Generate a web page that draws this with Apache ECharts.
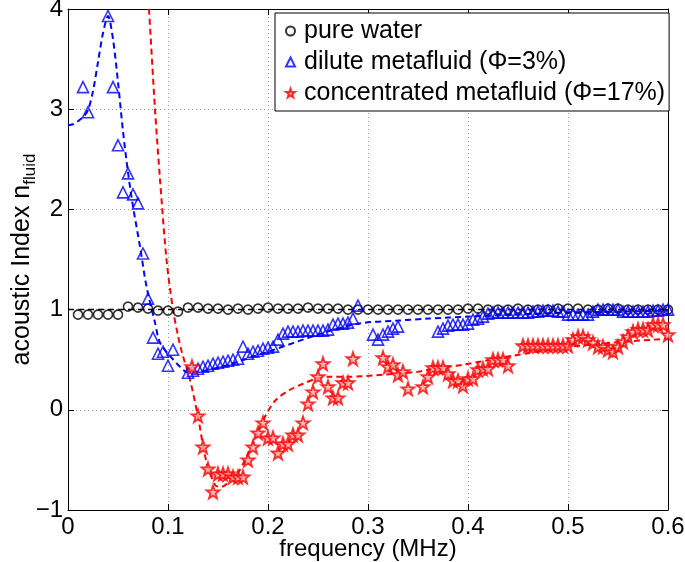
<!DOCTYPE html>
<html><head><meta charset="utf-8">
<script src="https://cdn.jsdelivr.net/npm/echarts@6/dist/echarts.min.js"></script>
<style>html,body{margin:0;padding:0;background:#fff}#c{width:685px;height:562px}</style>
</head><body><div id="c"></div>
<script>
// ---- data ----
const waterFreq = [0.01,0.02,0.03,0.04,0.05,0.06,0.07,0.08,0.09,0.10,0.11,0.12,0.13,0.14,0.15,0.16,0.17,0.18,0.19,0.20,0.21,0.22,0.23,0.24,0.25,0.26,0.27,0.28,0.29,0.30,0.31,0.32,0.33,0.34,0.35,0.36,0.37,0.38,0.39,0.40,0.41,0.42,0.43,0.44,0.45,0.46,0.47,0.48,0.49,0.50,0.51,0.52,0.53,0.54,0.55,0.56,0.57,0.58,0.59,0.60];
const waterN = [0.95,0.95,0.95,0.95,0.95,1.03,1.02,1.01,0.99,0.99,0.98,1.02,1.02,1.01,1.01,1.00,1.01,1.00,1.01,1.02,1.01,1.01,1.01,1.02,1.01,1.01,1.01,1.00,1.00,1.00,1.00,1.00,1.00,1.00,1.00,1.00,1.00,1.00,1.00,1.01,1.01,1.00,1.00,1.00,1.01,1.00,1.00,1.00,1.01,1.01,1.01,1.00,1.00,1.01,1.01,1.00,1.00,1.00,1.00,1.00];

const diluteFreq = [0.015,0.020,0.040,0.045,0.050,0.055,0.060,0.065,0.070,0.075,0.080,0.085,0.090,0.095,0.100,0.105,
  0.120,0.125,0.130,0.135,0.140,0.145,0.150,0.155,0.160,0.165,0.170,0.175,0.180,0.185,0.190,0.195,0.200,0.205,0.210,0.215,
  0.220,0.225,0.230,0.235,0.240,0.245,0.250,0.255,0.260,0.265,0.270,0.275,0.280,0.285,0.290,
  0.305,0.310,0.315,0.320,0.325,0.330,
  0.370,0.375,0.380,0.385,0.390,0.395,0.400,0.405,0.410,0.415,0.420,0.425,0.430,0.435,0.440,0.445,0.450,0.455,0.460,0.465,0.470,0.475,0.480,0.485,0.490,0.495,
  0.500,0.505,0.510,0.515,0.520,0.525,0.530,0.535,0.540,0.545,0.550,0.555,0.560,0.565,0.570,0.575,0.580,0.585,0.590,0.595,0.600];
const diluteN = [3.22,2.97,3.93,3.22,2.64,2.17,2.36,2.15,2.06,1.56,1.11,0.72,0.56,0.58,0.44,0.60,
  0.37,0.39,0.41,0.43,0.44,0.46,0.47,0.48,0.49,0.50,0.51,0.63,0.56,0.58,0.59,0.61,0.62,0.63,0.70,0.76,
  0.78,0.78,0.78,0.79,0.79,0.79,0.79,0.79,0.80,0.85,0.86,0.86,0.87,0.91,1.04,
  0.75,0.70,0.75,0.78,0.81,0.83,
  0.78,0.81,0.84,0.85,0.85,0.85,0.86,0.90,0.91,0.93,0.96,0.97,0.97,0.97,0.97,0.97,0.97,0.97,0.97,0.98,0.98,0.99,0.99,0.99,0.98,0.98,
  0.95,0.95,0.95,0.95,0.95,0.98,1.00,1.00,1.00,1.00,1.00,0.98,0.98,0.98,0.98,0.98,0.98,0.99,0.99,1.00,1.00];

const concFreq = [0.124,0.130,0.135,0.140,0.145,0.150,0.155,0.160,0.165,0.170,0.175,0.180,0.185,0.190,0.195,0.200,0.205,0.210,0.215,0.220,0.225,0.230,0.235,0.240,0.245,0.250,0.255,0.260,0.265,0.270,0.275,0.280,0.285,
  0.315,0.320,0.325,0.330,0.335,0.340,0.355,0.360,0.365,0.370,0.375,0.380,0.385,0.390,0.395,0.400,0.405,0.410,0.415,0.420,0.425,0.430,0.435,0.440,
  0.455,0.460,0.465,0.470,0.475,0.480,0.485,0.490,0.495,0.500,0.505,0.510,0.515,0.520,0.525,0.530,0.535,0.540,0.545,0.550,0.555,0.560,0.565,0.570,0.575,0.580,0.585,0.590,0.595,0.600];
const concN = [0.43,-0.06,-0.37,-0.59,-0.82,-0.64,-0.64,-0.64,-0.67,-0.67,-0.67,-0.50,-0.37,-0.23,-0.13,-0.28,-0.28,-0.43,-0.34,-0.34,-0.25,-0.25,-0.13,0.06,0.18,0.33,0.46,0.23,0.12,0.12,0.27,0.27,0.51,
  0.52,0.43,0.45,0.35,0.38,0.21,0.23,0.33,0.42,0.42,0.42,0.36,0.29,0.29,0.24,0.31,0.31,0.40,0.41,0.41,0.50,0.50,0.50,0.44,
  0.64,0.64,0.64,0.64,0.64,0.64,0.64,0.64,0.64,0.64,0.70,0.73,0.73,0.70,0.67,0.63,0.63,0.60,0.58,0.63,0.68,0.73,0.78,0.80,0.80,0.80,0.85,0.85,0.85,0.75];

const waterFitFreq = [0, 0.6];
const waterFitN = [1.0, 1.0];
const diluteFitFreq = [0,0.005,0.01,0.015,0.02,0.025,0.03,0.035,0.04,0.045,0.05,0.055,0.06,0.065,0.072,0.0785,0.087,0.092,0.1035,0.112,0.12,0.15,0.2,0.25,0.29,0.33,0.36,0.4,0.45,0.5,0.55,0.6];
const diluteFitN = [2.84,2.85,2.88,2.92,2.99,3.18,3.47,3.76,3.93,3.70,3.27,2.78,2.37,2.03,1.63,1.23,0.87,0.67,0.52,0.43,0.37,0.42,0.58,0.75,0.86,0.89,0.91,0.93,0.95,0.97,0.98,0.99];
const concFitFreq = [0.078,0.081,0.087,0.092,0.0985,0.105,0.11,0.114,0.122,0.13,0.138,0.147,0.153,0.162,0.17,0.178,0.188,0.198,0.208,0.222,0.235,0.248,0.261,0.28,0.315,0.35,0.365,0.395,0.445,0.495,0.545,0.6];
const concFitN = [4.5,4.0,3.0,2.3,1.5,1.0,0.74,0.57,0.30,-0.07,-0.5,-0.75,-0.77,-0.71,-0.63,-0.48,-0.27,-0.05,0.10,0.20,0.26,0.31,0.33,0.33,0.35,0.38,0.41,0.45,0.54,0.62,0.67,0.71];

const xTicks = [0,0.1,0.2,0.3,0.4,0.5,0.6];
const yTicks = [-1,0,1,2,3,4];
const legendNames = ['pure water','dilute metafluid (\u03A6=3%)','concentrated metafluid (\u03A6=17%)'];

// ---- chart ----
const zip = (a,b) => a.map((v,i) => [v,b[i]]);
const FONT = 'Liberation Sans, Arial, Helvetica, sans-serif';
const STAR = 'path://M0,-10L2.35,-3.24L9.51,-3.09L3.8,1.24L5.88,8.09L0,4L-5.88,8.09L-3.8,1.24L-9.51,-3.09L-2.35,-3.24Z';

const chart = echarts.init(document.getElementById('c'), null, {renderer:'canvas'});
const axisCommon = {
  axisLine:{show:true, onZero:false, lineStyle:{color:'#000', width:1}},
  axisTick:{show:true, inside:true, length:6, lineStyle:{color:'#000'}},
};
chart.setOption({
  backgroundColor:'#fff',
  animation:false,
  textStyle:{fontFamily:FONT},
  grid:{left:68, right:17, top:9, bottom:52, containLabel:false, outerBoundsMode:'none'},
  legend:{
    orient:'vertical', left:275, top:13,
    padding:[5,4,5,10],
    borderColor:'#000', borderWidth:1, backgroundColor:'#fff',
    itemWidth:9, itemHeight:9, itemGap:5,
    textStyle:{fontSize:25, color:'#000', fontFamily:FONT, lineHeight:26, padding:[0,0,0,4]},
    data:legendNames
  },
  xAxis:[
    Object.assign({type:'value', min:0, max:0.6, interval:0.1, position:'bottom',
      name:'frequency (MHz)', nameLocation:'middle', nameGap:27, nameMoveOverlap:false,
      nameTextStyle:{fontSize:24, color:'#000', fontFamily:FONT},
      axisLabel:{fontSize:24, color:'#000', margin:5, fontFamily:FONT,
        formatter:v => String(v)},
      splitLine:{show:true, lineStyle:{color:'#999', type:[1,3], width:1}}
    }, axisCommon),
    Object.assign({type:'value', min:0, max:0.6, interval:0.1, position:'top',
      axisLabel:{show:false}, splitLine:{show:false}}, axisCommon)
  ],
  yAxis:[
    Object.assign({type:'value', min:-1, max:4, interval:1, position:'left',
      name:'acoustic Index n{sub|fluid}', nameLocation:'middle', nameGap:62, nameMoveOverlap:false,
      nameTextStyle:{fontSize:25, color:'#000', fontFamily:FONT, verticalAlign:'top', lineHeight:25,
        rich:{sub:{fontSize:17, fontFamily:FONT, color:'#000', verticalAlign:'bottom', lineHeight:33}}},
      axisLabel:{fontSize:24, color:'#000', margin:5, fontFamily:FONT,
        formatter:v => String(v).replace('-','\u2212')},
      splitLine:{show:true, lineStyle:{color:'#999', type:[1,3], width:1}}
    }, axisCommon),
    Object.assign({type:'value', min:-1, max:4, interval:1, position:'right',
      axisLabel:{show:false}, splitLine:{show:false}}, axisCommon)
  ],
  series:[
    {name:'waterFit', type:'line', data:zip(waterFitFreq, waterFitN), showSymbol:false, symbol:'none',
      lineStyle:{color:'#000', width:1.5, type:[6,4]}, z:1},
    {name:'diluteFit', type:'line', data:zip(diluteFitFreq, diluteFitN), showSymbol:false, symbol:'none', smooth:0.3,
      lineStyle:{color:'#0000ff', width:2, type:[6,4]}, z:1},
    {name:'concFit', type:'line', data:zip(concFitFreq, concFitN), showSymbol:false, symbol:'none', smooth:0.3,
      lineStyle:{color:'#ff0000', width:2, type:[6,4]}, z:1},
    {name:legendNames[0], type:'scatter', data:zip(waterFreq, waterN), symbol:'circle', symbolSize:9,
      itemStyle:{color:'rgba(255,255,255,0)', borderColor:'#000', borderWidth:1.6}, z:3},
    {name:legendNames[1], type:'scatter', data:zip(diluteFreq, diluteN), symbol:'triangle', symbolSize:11,
      itemStyle:{color:'rgba(255,255,255,0)', borderColor:'#0000ff', borderWidth:1.6}, z:4},
    {name:legendNames[2], type:'scatter', data:zip(concFreq, concN), symbol:STAR, symbolSize:13,
      itemStyle:{color:'rgba(255,170,170,1)', borderColor:'#ff0000', borderWidth:1.8}, z:5}
  ]
});
</script>
</body></html>
